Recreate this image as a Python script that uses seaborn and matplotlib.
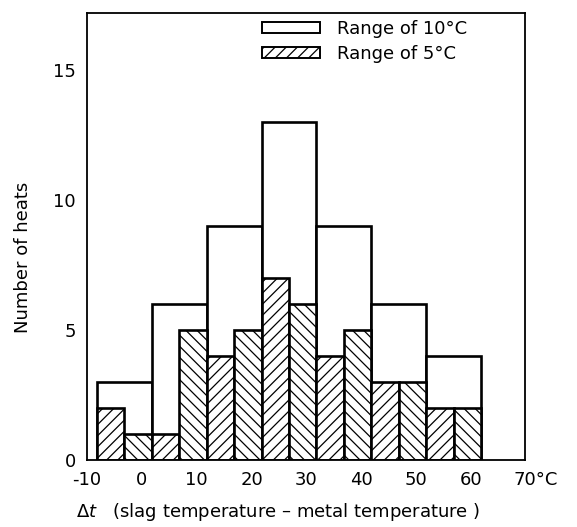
import numpy as np
import pandas as pd
import matplotlib
matplotlib.use("Agg")
import matplotlib.pyplot as plt
import matplotlib.transforms as mtransforms
from matplotlib.patches import Patch
import seaborn as sns

# ---- data ----
edges10 = [-10, 0, 10, 20, 30, 40, 50, 60]
counts10 = [3, 6, 9, 13, 9, 6, 4]
edges5 = [-10, -5, 0, 5, 10, 15, 20, 25, 30, 35, 40, 45, 50, 55, 60]
counts5 = [2, 1, 1, 5, 4, 5, 7, 6, 4, 5, 3, 3, 2, 2]
xtick_vals = [-10, 0, 10, 20, 30, 40, 50, 60]
xtick_labels = ["-10", "0", "10", "20", "30", "40", "50", "60"]
ytick_vals = [0, 5, 10, 15]
legend_labels = ["Range of 10°C", "Range of 5°C"]

sns.set_style("white")
plt.rcParams["font.family"] = ["DejaVu Sans"]
plt.rcParams["text.color"] = "black"
plt.rcParams["axes.labelcolor"] = "black"
plt.rcParams["hatch.linewidth"] = 0.9
plt.rcParams["hatch.color"] = "black"

FS = 13
W, H = 577, 527
fig = plt.figure(figsize=(W / 100, H / 100), dpi=100)
ax = fig.add_axes([87 / W, 1 - 460 / H, (525 - 87) / W, (460 - 13) / H])

c10 = [(edges10[i] + edges10[i + 1]) / 2 for i in range(len(counts10))]
c5 = [(edges5[i] + edges5[i + 1]) / 2 for i in range(len(counts5))]
df10 = pd.DataFrame({"x": c10, "n": counts10})
df5 = pd.DataFrame({"x": c5, "n": counts5})

sns.histplot(data=df10, x="x", weights="n", bins=edges10, ax=ax,
             color="white", edgecolor="black", linewidth=1.9, alpha=1)
n_first = len(ax.patches)
sns.histplot(data=df5, x="x", weights="n", bins=edges5, ax=ax,
             color="white", edgecolor="black", linewidth=1.9, alpha=1)
for i, p in enumerate(ax.patches[n_first:]):
    p.set_hatch("///" if i % 2 == 0 else "\\\\\\")
    p.set_facecolor("white")

ax.set_xlim(-11.8, 68)
ax.set_ylim(0, 17.2)
ax.set_xlabel("")
ax.set_ylabel("")

ax.set_yticks(ytick_vals)
ax.tick_params(axis="y", direction="in", length=5, width=0.8, pad=8,
               labelsize=FS, colors="black")
ax.set_xticks(xtick_vals, xtick_labels)
ax.tick_params(axis="x", length=0, pad=8, labelsize=FS, colors="black")
off = mtransforms.ScaledTranslation(-10 / 100, 0, fig.dpi_scale_trans)
for lab in ax.get_xticklabels():
    lab.set_transform(lab.get_transform() + off)

ax.annotate("70°C", xy=(70, 0), xycoords=("data", "axes fraction"),
            xytext=(-16.5, -8), textcoords="offset points",
            ha="left", va="top", fontsize=FS, annotation_clip=False)

for s in ax.spines.values():
    s.set_color("black")
    s.set_linewidth(1.3)

fig.text(278 / W, 1 - 512 / H,
         r"$\it{\Delta t}$   (slag temperature – metal temperature )",
         ha="center", va="center", fontsize=FS)
fig.text(23 / W, 1 - 257 / H, "Number of heats", rotation=90,
         ha="center", va="center", fontsize=FS)

handles = [Patch(facecolor="white", edgecolor="black", linewidth=1.4),
           Patch(facecolor="white", edgecolor="black", linewidth=1.4, hatch="///")]
ax.legend(handles, legend_labels, loc="upper left",
          bbox_to_anchor=(262 / W, 1 - 20 / H), bbox_transform=fig.transFigure,
          frameon=False, fontsize=FS, borderpad=0, borderaxespad=0,
          handlelength=3.2, handleheight=0.6, handletextpad=0.95,
          labelspacing=0.38)

fig.savefig("out.png", dpi=100)
